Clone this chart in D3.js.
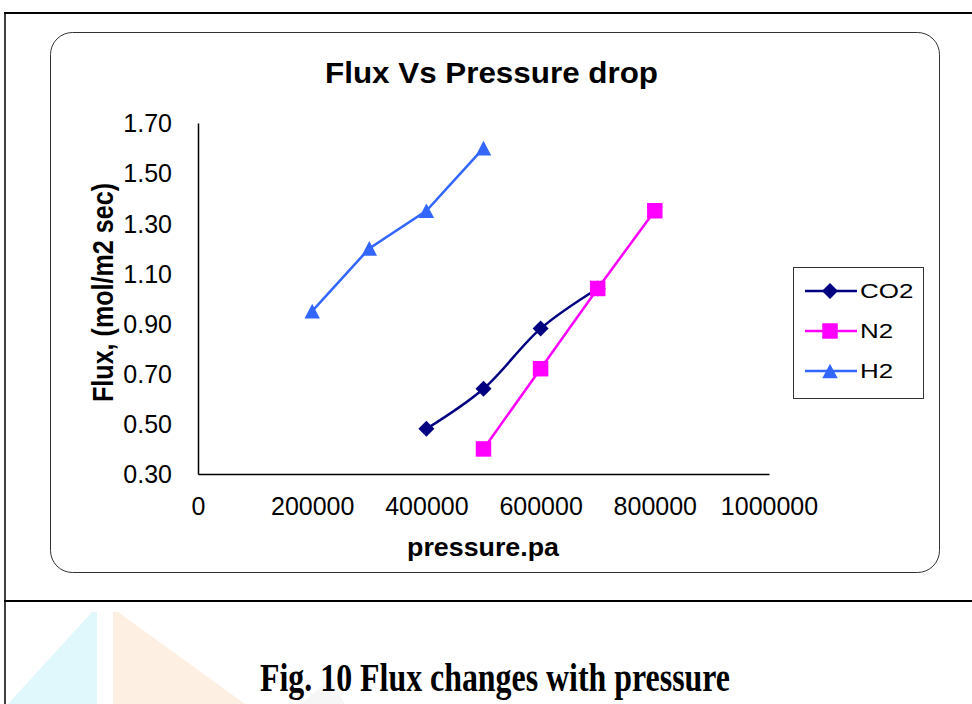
<!DOCTYPE html>
<html>
<head>
<meta charset="utf-8">
<script src="https://cdn.jsdelivr.net/npm/d3@7"></script>
<style>
  html, body { margin: 0; padding: 0; background: #fff; }
  svg { display: block; }
</style>
</head>
<body>
<svg id="chart" width="972" height="704"></svg>
<script>
// Flux of each gas against applied pressure
const pressureCO2 = [400000, 500000, 600000, 700000];
const fluxCO2 = [0.48, 0.64, 0.88, 1.04];
const pressureN2 = [500000, 600000, 700000, 800000];
const fluxN2 = [0.40, 0.72, 1.04, 1.35];
const pressureH2 = [200000, 300000, 400000, 500000];
const fluxH2 = [0.95, 1.20, 1.35, 1.60];

const yTicks = [0.30, 0.50, 0.70, 0.90, 1.10, 1.30, 1.50, 1.70];
const xTicks = [0, 200000, 400000, 600000, 800000, 1000000];

const seriesNames = ["CO2", "N2", "H2"];
const seriesColors = ["#000080", "#FF00FF", "#3366FF"];

const svg = d3.select("#chart");

// Page frame lines and faint watermark behind the caption
const bg = svg.append("g");
bg.append("polygon")
  .attr("points", "8,704 92,612 97,612 97,704")
  .attr("fill", "#d3f5f9").attr("opacity", 0.7);
bg.append("polygon")
  .attr("points", "113,612 118,612 245,704 113,704")
  .attr("fill", "#fce8d4").attr("opacity", 0.7);
bg.append("polygon")
  .attr("points", "300,704 330,680 345,704")
  .attr("fill", "#f0f0f0").attr("opacity", 0.6);

bg.append("line").attr("x1", 4).attr("x2", 972).attr("y1", 13).attr("y2", 13)
  .attr("stroke", "#000").attr("stroke-width", 2);
bg.append("line").attr("x1", 5).attr("x2", 5).attr("y1", 12).attr("y2", 704)
  .attr("stroke", "#000").attr("stroke-width", 1.5);
bg.append("line").attr("x1", 4).attr("x2", 972).attr("y1", 601).attr("y2", 601)
  .attr("stroke", "#000").attr("stroke-width", 2);

// Chart area outline
svg.append("rect")
  .attr("x", 50.5).attr("y", 32.5).attr("width", 889).attr("height", 540)
  .attr("rx", 22).attr("ry", 22)
  .attr("fill", "#fff").attr("stroke", "#333").attr("stroke-width", 1);

// Caption
svg.append("text")
  .attr("x", 260).attr("y", 691)
  .attr("font-family", "'Liberation Serif', 'Times New Roman', serif")
  .attr("font-weight", "bold").attr("font-size", 41)
  .attr("textLength", 470).attr("lengthAdjust", "spacingAndGlyphs")
  .text("Fig. 10 Flux changes with pressure");

// Scales
const x = d3.scaleLinear().domain([0, 1000000]).range([198, 769]);
const y = d3.scaleLinear().domain([0.30, 1.70]).range([474, 123]);

const font = "'Liberation Sans', Arial, sans-serif";

// Axes
const xAxis = svg.append("g").attr("transform", "translate(0,474)")
  .call(d3.axisBottom(x).tickValues(xTicks).tickSize(0).tickPadding(23).tickFormat(d3.format("d")));
const yAxis = svg.append("g").attr("transform", "translate(198,0)")
  .call(d3.axisLeft(y).tickValues(yTicks).tickSize(0).tickPadding(26).tickFormat(d3.format(".2f")));
[xAxis, yAxis].forEach(a => {
  a.select(".domain").attr("stroke", "#000").attr("stroke-width", 1.5);
  a.selectAll("text").attr("font-family", font).attr("font-size", 25).attr("fill", "#000");
});
yAxis.selectAll("text").attr("dy", "0.35em");
xAxis.selectAll("text").attr("dy", "0.71em");

// Titles
svg.append("text").attr("x", 325).attr("y", 83)
  .attr("font-family", font).attr("font-weight", "bold").attr("font-size", 29)
  .attr("textLength", 333).attr("lengthAdjust", "spacingAndGlyphs")
  .text("Flux Vs Pressure drop");
svg.append("text").attr("x", 407).attr("y", 556)
  .attr("font-family", font).attr("font-weight", "bold").attr("font-size", 26)
  .attr("textLength", 152).attr("lengthAdjust", "spacingAndGlyphs")
  .text("pressure.pa");
svg.append("text")
  .attr("transform", "translate(113,402) rotate(-90)")
  .attr("font-family", font).attr("font-weight", "bold").attr("font-size", 29)
  .attr("textLength", 219).attr("lengthAdjust", "spacingAndGlyphs")
  .text("Flux, (mol/m2 sec)");

// Marker shapes: diamond as a square turned 45 degrees, square, triangle
const diamond = { draw(ctx, size) { const r = Math.sqrt(size) / 2;
  ctx.moveTo(0, -r); ctx.lineTo(r, 0); ctx.lineTo(0, r); ctx.lineTo(-r, 0); ctx.closePath(); } };
const square = { draw(ctx, size) { const h = Math.sqrt(size) / 2;
  ctx.rect(-h, -h, 2 * h, 2 * h); } };
const triangle = { draw(ctx, size) { const w = Math.sqrt(size) / 2;
  ctx.moveTo(0, -w * 0.95); ctx.lineTo(w, w * 0.95); ctx.lineTo(-w, w * 0.95); ctx.closePath(); } };

// Series
const series = [
  { name: seriesNames[0], xs: pressureCO2, ys: fluxCO2, color: seriesColors[0], shape: diamond, size: 256, curve: d3.curveCatmullRom.alpha(0.5) },
  { name: seriesNames[1], xs: pressureN2, ys: fluxN2, color: seriesColors[1], shape: square, size: 240, curve: d3.curveLinear },
  { name: seriesNames[2], xs: pressureH2, ys: fluxH2, color: seriesColors[2], shape: triangle, size: 240, curve: d3.curveLinear }
];

series.forEach(s => {
  const pts = s.xs.map((v, i) => [v, s.ys[i]]);
  const line = d3.line().x(d => x(d[0])).y(d => y(d[1])).curve(s.curve);
  svg.append("path").datum(pts)
    .attr("d", line).attr("fill", "none")
    .attr("stroke", s.color).attr("stroke-width", 2.5);
  svg.append("g").selectAll("path").data(pts).join("path")
    .attr("transform", d => `translate(${x(d[0])},${y(d[1])})`)
    .attr("d", d3.symbol().type(s.shape).size(s.size))
    .attr("fill", s.color);
});

// Legend
const legend = svg.append("g");
legend.append("rect").attr("x", 793.5).attr("y", 267.5).attr("width", 130).attr("height", 131)
  .attr("fill", "#fff").attr("stroke", "#333").attr("stroke-width", 1);
series.forEach((s, i) => {
  const ly = 291 + i * 40;
  legend.append("line").attr("x1", 805).attr("x2", 857).attr("y1", ly).attr("y2", ly)
    .attr("stroke", s.color).attr("stroke-width", 2.5);
  legend.append("path").attr("transform", `translate(830,${ly})`)
    .attr("d", d3.symbol().type(s.shape).size(s.size)).attr("fill", s.color);
  legend.append("text").attr("transform", `translate(860,${ly}) scale(1.3,1)`)
    .attr("dy", "0.36em")
    .attr("font-family", font).attr("font-size", 20).text(s.name);
});
</script>
</body>
</html>
